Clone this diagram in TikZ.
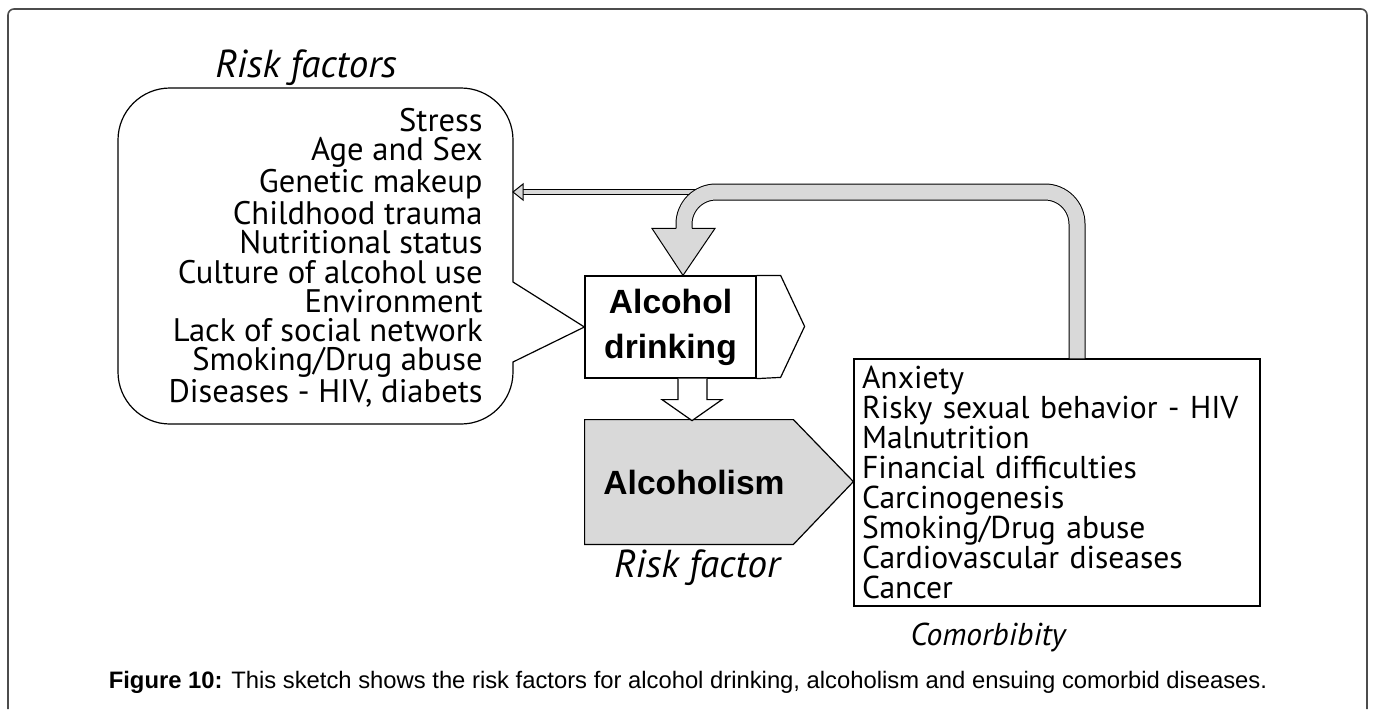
\documentclass[tikz,border=0pt]{standalone}
\usepackage{fontspec}
\setmainfont{PT Sans}
\newfontfamily\arialfont{Liberation Sans}
\usetikzlibrary{positioning,backgrounds}
\definecolor{bandgray}{RGB}{217,217,217}

\begin{document}
\begin{tikzpicture}[x=0.5pt,y=-0.5pt,
  listfont/.style={font=\fontsize{16.3}{14.6}\selectfont},
  ital/.style={inner sep=0pt,font=\fontsize{19.5}{22}\selectfont\itshape},
  boldlbl/.style={font=\arialfont\bfseries\fontsize{16.8}{22.5}\selectfont,align=center},
  bubble/.style={draw,line width=0.6pt},
  band/.style={draw=black,line width=0.5pt,double=bandgray,double distance=7.5pt},
  thinarrow/.style={draw=black,line width=0.4pt,double=bandgray,double distance=2.2pt},
  blockhead/.style={draw,line width=0.5pt,fill=bandgray,line join=miter}
]
\useasboundingbox (0,0) rectangle (1375,709);
% outer frame, open at the bottom
\draw[black!70,line width=0.8pt,rounded corners=3pt] (8,709) -- (8,9) -- (1367,9) -- (1367,709);

% boxes
\node[draw,line width=0.6pt,minimum width=85.5pt,minimum height=51pt,inner sep=0pt,boldlbl]
  (drink) at (670.5,327) {Alcohol\\drinking};
\draw[line width=0.6pt] (drink.north east) -- ++(24,0) -- ++(24,51) -- ++(-24,51) -- (drink.south east);
\node[minimum width=104pt,minimum height=62pt,inner sep=0pt,boldlbl] (alc) at (689,482)
  {\hspace*{5pt}Alcoholism};
\begin{scope}[on background layer]
\filldraw[fill=bandgray,line width=0.6pt] (alc.north west) -- (alc.north east) -- ++(60,62)
  -- (alc.south east) -- (alc.south west) -- cycle;
\end{scope}
\node[draw,line width=0.6pt,font=\fontsize{15.8}{15}\selectfont,minimum width=203pt,
  minimum height=123.5pt,text width=195pt,inner xsep=4pt,inner ysep=0pt,align=left]
  (comorb) at (1057,482.5)
  {Anxiety\\Risky sexual behavior - HIV\\Malnutrition\\Financial difficulties\\Carcinogenesis\\
   Smoking/Drug abuse\\Cardiovascular diseases\\Cancer};

% risk factor bubble
\node[listfont,inner sep=0pt,align=right,anchor=north east] (risk) at (483,108)
  {Stress\\Age and Sex\\Genetic makeup\\Childhood trauma\\Nutritional status\\
   Culture of alcohol use\\Environment\\Lack of social network\\Smoking/Drug abuse\\
   Diseases - HIV, diabets};
\draw[bubble] (300,88) [rounded corners=26pt] -- (513,88) -- (513,200) [sharp corners]
  -- (513,282) -- (drink.west) -- (513,362) -- (513,372) [rounded corners=26pt]
  -- (513,424) -- (118,424) -- (118,88) -- cycle;
\coordinate (fbtip) at (513,192);
\coordinate (fbturn) at (684,192);

% labels
\node[ital,anchor=base] (rftitle) at (306,77) {Risk factors};
\node[ital,anchor=base] (rflbl) at (697,577) {Risk factor};
\node[ital,anchor=base,font=\fontsize{15.8}{18}\selectfont\itshape] (cmlbl) at (988,645) {Comorbibity};
\node[anchor=base,font=\arialfont\fontsize{11.9}{14}\selectfont] (caption) at (688,688)
  {\textbf{Figure 10:} This sketch shows the risk factors for alcohol drinking, alcoholism and ensuing comorbid diseases.};

% block arrows
\draw[line width=0.6pt,fill=white] (drink.south) ++(7.5,0) -- ++(0,21) -- ++(-16,0)
  -- ++(30,21) -- ++(30,-21) -- ++(-15,0) -- ++(0,-21);
\draw[thinarrow] (699,192) -- ([xshift=5pt]fbtip);
\filldraw[blockhead] (fbtip) -- ++(10,-8) -- ++(0,16) -- cycle;
\draw[band,rounded corners=16pt] (comorb.north) ++(20,0) |- (fbturn)
  [rounded corners=15pt] -- ++(0,37);
\fill[bandgray] (drink.north) ++(-18.5,-47) -- ++(63,0) -- ++(-32,47) -- cycle;
\draw[line width=0.5pt,line join=miter] (drink.north) ++(5.5,-47) -- ++(-24,0) -- ++(31,47)
  -- ++(32,-47) -- ++(-23,0);
\end{tikzpicture}
\end{document}
